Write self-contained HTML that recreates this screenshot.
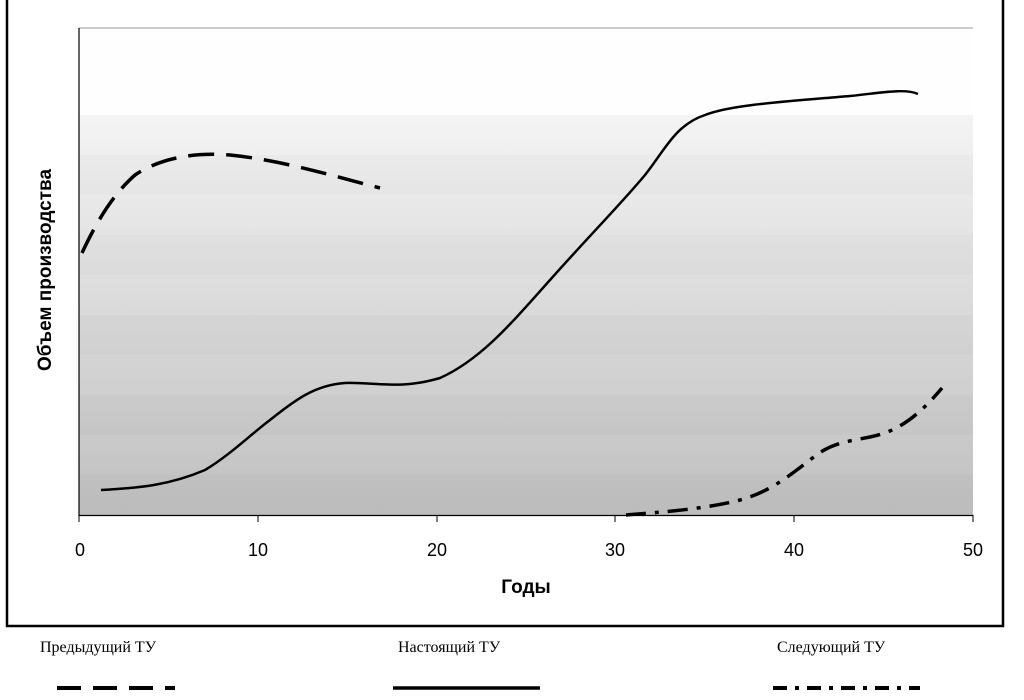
<!DOCTYPE html>
<html><head><meta charset="utf-8"><style>
html,body{margin:0;padding:0;background:#fff;width:1024px;height:700px;overflow:hidden}
svg{display:block}
</style></head><body>
<svg width="1024" height="700" xmlns="http://www.w3.org/2000/svg">
<defs>
<linearGradient id="g" x1="0" y1="0" x2="0" y2="1">
<stop offset="0" stop-color="#f4f4f4"/><stop offset="1" stop-color="#bfbfbf"/>
</linearGradient>
</defs>
<rect x="0" y="0" width="1024" height="700" fill="#fff"/>
<polyline points="7,0 7,626 1003,626 1003,0" fill="none" stroke="#000" stroke-width="2.5"/>
<rect x="79" y="28" width="894" height="88" fill="#fefefe"/>
<rect x="79" y="115" width="894" height="400" fill="url(#g)"/>
<g fill="#000" opacity="0.012">
<rect x="79" y="155" width="894" height="40"/><rect x="79" y="235" width="894" height="40"/>
<rect x="79" y="315" width="894" height="40"/><rect x="79" y="395" width="894" height="40"/>
<rect x="79" y="475" width="894" height="40"/></g>
<line x1="79" y1="28" x2="973" y2="28" stroke="#999" stroke-width="1"/>
<line x1="79" y1="28" x2="79" y2="516" stroke="#000" stroke-width="1.2"/>
<line x1="79" y1="515.5" x2="973" y2="515.5" stroke="#000" stroke-width="1.2"/>
<g stroke="#000" stroke-width="1">
<line x1="79" y1="515" x2="79" y2="522"/><line x1="258" y1="515" x2="258" y2="522"/>
<line x1="437" y1="515" x2="437" y2="522"/><line x1="615" y1="515" x2="615" y2="522"/>
<line x1="794" y1="515" x2="794" y2="522"/><line x1="973" y1="515" x2="973" y2="522"/></g>
<g font-family="Liberation Sans, sans-serif" font-size="18" text-anchor="middle" fill="#000">
<text x="80" y="556">0</text><text x="258" y="556">10</text><text x="437" y="556">20</text>
<text x="615" y="556">30</text><text x="794" y="556">40</text><text x="973" y="556">50</text>
<text x="526" y="593" font-weight="bold" font-size="19">Годы</text>
<text transform="translate(51,270) rotate(-90)" font-weight="bold" font-size="19">Объем производства</text>
</g>
<path d="M82,253 C95,225 112,195 135,175 C160,158 195,152 230,155 C280,160 330,175 380,188" fill="none" stroke="#000" stroke-width="3.5" stroke-dasharray="26,12"/>
<path d="M101,490 C140,488 170,485 205,470 C230,455 250,435 270,420 C295,400 315,385 345,383 C375,382 400,390 440,378 C480,360 510,325 550,280 C590,235 620,205 645,175 C665,150 675,125 705,115 C730,105 780,102 850,96 C880,93 905,88 918,94" fill="none" stroke="#000" stroke-width="2.5"/>
<path d="M626,515 C660,512 700,510 740,500 C770,492 790,475 810,460 C830,443 845,442 870,437 C895,432 915,420 942,388" fill="none" stroke="#000" stroke-width="3.5" stroke-dasharray="20,9,4,9"/>
<g font-family="Liberation Serif, serif" font-size="16" fill="#000">
<text x="40" y="652">Предыдущий ТУ</text>
<text x="398" y="652">Настоящий ТУ</text>
<text x="777" y="652">Следующий ТУ</text>
</g>
<line x1="57" y1="688" x2="175" y2="688" stroke="#000" stroke-width="4" stroke-dasharray="24,12"/>
<line x1="393" y1="688" x2="540" y2="688" stroke="#000" stroke-width="3.5"/>
<line x1="773" y1="688" x2="920" y2="688" stroke="#000" stroke-width="4" stroke-dasharray="14,8,4,8"/>
</svg>
</body></html>
